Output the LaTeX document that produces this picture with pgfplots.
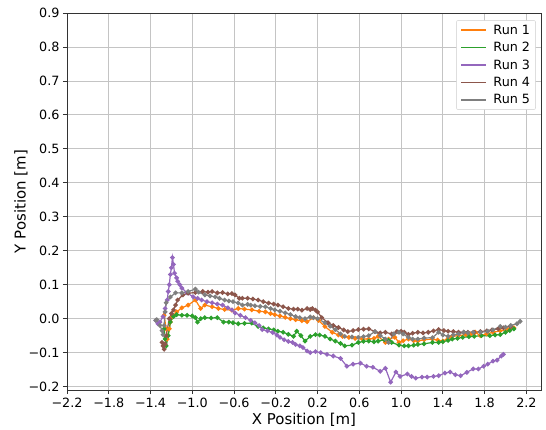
\documentclass[border=0pt]{standalone}
\usepackage{fontspec}
\setmainfont{DejaVu Sans}
\usepackage{pgfplots}
\pgfplotsset{compat=1.18}

\definecolor{cOrange}{HTML}{FF7F0E}
\definecolor{cGreen}{HTML}{2CA02C}
\definecolor{cPurple}{HTML}{9467BD}
\definecolor{cBrown}{HTML}{8C564B}
\definecolor{cGray}{HTML}{7F7F7F}
\definecolor{gridgray}{HTML}{C4C4C4}

\begin{document}
\begin{tikzpicture}
\begin{axis}[
    at={(67bp,40bp)}, anchor=south west,
    scale only axis,
    width=474bp, height=377bp,
    xmin=-2.2, xmax=2.34,
    ymin=-0.21, ymax=0.9,
    xtick={-2.2,-1.8,-1.4,-1.0,-0.6,-0.2,0.2,0.6,1.0,1.4,1.8,2.2},
    xticklabels={−2.2,−1.8,−1.4,−1.0,−0.6,−0.2,0.2,0.6,1.0,1.4,1.8,2.2},
    ytick={-0.2,-0.1,0,0.1,0.2,0.3,0.4,0.5,0.6,0.7,0.8,0.9},
    yticklabels={−0.2,−0.1,0.0,0.1,0.2,0.3,0.4,0.5,0.6,0.7,0.8,0.9},
    tick align=outside, tick pos=left,
    major tick length=4bp,
    tick style={black!80, line width=0.8bp},
    axis line style={black!80, line width=0.8bp},
    grid=major,
    major grid style={gridgray, line width=0.8bp},
    ticklabel style={font=\fontsize{12.8}{14}\selectfont},
    xticklabel style={yshift=-0.5bp},
    xlabel={X Position [m]},
    ylabel={Y Position [m]},
    label style={font=\fontsize{15}{17}\selectfont},
    xlabel style={yshift=1bp},
    ylabel style={yshift=-6bp},
    legend cell align=left,
    legend image code/.code={\draw[#1] (0bp,0bp) -- (25bp,0bp);},
    legend style={
      at={(0.989,0.981)}, anchor=north east,
      draw=black!20, rounded corners=2bp, fill=white,
      font=\fontsize{12.8}{14}\selectfont,
      row sep=3.5bp, inner xsep=4bp, inner ysep=3bp,
      nodes={inner sep=1.5bp},
      /tikz/every odd column/.append style={column sep=5bp},
    },
    run/.style={line width=1.2bp, mark=*, mark size=1.7bp, forget plot},
]
\addplot[run, color=cOrange, mark options={fill=cOrange, draw=cOrange}] coordinates {
(-1.27,0.01) (-1.25,-0.03) (-1.24,-0.06) (-1.22,-0.03) (-1.21,-0.01) (-1.19,0.006) (-1.15,0.02) (-1.10,0.032) (-1.04,0.04) (-0.97,0.055) (-0.92,0.03) (-0.88,0.04) (-0.81,0.035) (-0.75,0.03) (-0.69,0.027) (-0.62,0.025) (-0.56,0.03) (-0.50,0.028) (-0.43,0.026) (-0.36,0.022) (-0.30,0.02) (-0.25,0.015) (-0.21,0.012) (-0.16,0.008) (-0.11,0.004) (-0.06,0.0) (-0.01,-0.003) (0.05,-0.006) (0.10,-0.009) (0.16,0.003) (0.21,-0.005) (0.27,-0.023) (0.34,-0.04) (0.40,-0.048) (0.44,-0.052) (0.50,-0.055) (0.56,-0.058) (0.63,-0.06) (0.69,-0.06) (0.74,-0.058) (0.78,-0.052) (0.85,-0.07) (0.88,-0.06) (0.94,-0.055) (0.98,-0.07) (1.02,-0.065) (1.07,-0.06) (1.12,-0.065) (1.16,-0.066) (1.22,-0.062) (1.30,-0.06) (1.35,-0.063) (1.40,-0.066) (1.45,-0.058) (1.49,-0.052) (1.55,-0.05) (1.62,-0.047) (1.67,-0.045) (1.71,-0.04) (1.76,-0.05) (1.82,-0.045) (1.88,-0.04) (1.95,-0.036) (2.02,-0.032) (2.08,-0.027)
};
\addplot[run, color=cGreen, mark options={fill=cGreen, draw=cGreen}] coordinates {
(-1.27,-0.03) (-1.26,-0.06) (-1.25,-0.08) (-1.23,-0.05) (-1.21,-0.01) (-1.18,0.006) (-1.15,0.012) (-1.10,0.01) (-1.05,0.01) (-1.0,0.008) (-0.97,0.003) (-0.95,-0.01) (-0.92,0.0) (-0.88,0.003) (-0.82,0.002) (-0.76,0.003) (-0.70,-0.01) (-0.65,-0.01) (-0.61,-0.012) (-0.56,-0.015) (-0.50,-0.014) (-0.43,-0.013) (-0.37,-0.023) (-0.32,-0.027) (-0.27,-0.03) (-0.22,-0.033) (-0.18,-0.037) (-0.13,-0.04) (-0.08,-0.046) (-0.03,-0.052) (0.0,-0.037) (0.04,-0.05) (0.08,-0.066) (0.13,-0.052) (0.18,-0.047) (0.22,-0.048) (0.27,-0.052) (0.32,-0.06) (0.37,-0.066) (0.42,-0.073) (0.46,-0.08) (0.53,-0.078) (0.59,-0.07) (0.64,-0.067) (0.69,-0.066) (0.74,-0.068) (0.78,-0.066) (0.84,-0.062) (0.88,-0.064) (0.91,-0.07) (0.98,-0.078) (1.03,-0.08) (1.07,-0.08) (1.12,-0.078) (1.16,-0.076) (1.22,-0.074) (1.30,-0.07) (1.36,-0.07) (1.40,-0.068) (1.45,-0.064) (1.49,-0.06) (1.54,-0.058) (1.59,-0.055) (1.65,-0.053) (1.70,-0.052) (1.77,-0.05) (1.85,-0.05) (1.90,-0.048) (1.95,-0.047) (2.00,-0.04) (2.04,-0.035) (2.08,-0.03)
};
\addplot[run, color=cPurple, mark options={fill=cPurple, draw=cPurple}] coordinates {
(-1.35,-0.005) (-1.33,-0.015) (-1.31,-0.01) (-1.28,0.006) (-1.26,0.03) (-1.24,0.055) (-1.23,0.08) (-1.22,0.10) (-1.21,0.13) (-1.20,0.15) (-1.19,0.18) (-1.18,0.16) (-1.17,0.134) (-1.15,0.12) (-1.14,0.11) (-1.12,0.10) (-1.10,0.09) (-1.05,0.076) (-0.99,0.064) (-0.95,0.06) (-0.91,0.055) (-0.86,0.05) (-0.81,0.047) (-0.76,0.043) (-0.71,0.04) (-0.66,0.032) (-0.62,0.026) (-0.59,0.017) (-0.54,0.01) (-0.49,0.003) (-0.44,-0.005) (-0.40,-0.012) (-0.36,-0.02) (-0.33,-0.032) (-0.28,-0.036) (-0.23,-0.041) (-0.19,-0.048) (-0.16,-0.055) (-0.12,-0.062) (-0.08,-0.067) (-0.04,-0.07) (-0.01,-0.076) (0.03,-0.08) (0.06,-0.085) (0.10,-0.095) (0.13,-0.10) (0.18,-0.097) (0.23,-0.1) (0.29,-0.105) (0.35,-0.11) (0.42,-0.117) (0.48,-0.14) (0.54,-0.134) (0.61,-0.131) (0.67,-0.14) (0.73,-0.143) (0.80,-0.155) (0.85,-0.146) (0.90,-0.187) (0.95,-0.157) (0.99,-0.17) (1.06,-0.163) (1.10,-0.17) (1.14,-0.175) (1.20,-0.172) (1.25,-0.172) (1.31,-0.17) (1.36,-0.168) (1.42,-0.16) (1.47,-0.157) (1.52,-0.165) (1.57,-0.168) (1.63,-0.158) (1.69,-0.148) (1.74,-0.148) (1.79,-0.14) (1.83,-0.134) (1.88,-0.125) (1.92,-0.122) (1.96,-0.11) (1.98,-0.105)
};
\addplot[run, color=cBrown, mark options={fill=cBrown, draw=cBrown}] coordinates {
(-1.29,-0.07) (-1.28,-0.08) (-1.27,-0.09) (-1.26,-0.075) (-1.25,-0.05) (-1.22,0.0) (-1.20,0.015) (-1.18,0.026) (-1.16,0.04) (-1.14,0.055) (-1.09,0.07) (-1.04,0.075) (-0.97,0.077) (-0.90,0.08) (-0.85,0.078) (-0.81,0.08) (-0.76,0.076) (-0.71,0.077) (-0.66,0.073) (-0.62,0.074) (-0.59,0.07) (-0.55,0.06) (-0.52,0.06) (-0.47,0.06) (-0.42,0.058) (-0.37,0.055) (-0.32,0.05) (-0.27,0.046) (-0.22,0.043) (-0.18,0.04) (-0.13,0.035) (-0.08,0.03) (-0.03,0.028) (0.01,0.028) (0.05,0.025) (0.10,0.03) (0.13,0.027) (0.15,0.03) (0.18,0.025) (0.20,0.02) (0.24,0.003) (0.30,-0.012) (0.35,-0.02) (0.40,-0.026) (0.45,-0.033) (0.49,-0.038) (0.54,-0.035) (0.59,-0.032) (0.64,-0.031) (0.69,-0.03) (0.75,-0.038) (0.80,-0.042) (0.85,-0.04) (0.91,-0.045) (0.96,-0.038) (1.00,-0.037) (1.03,-0.04) (1.07,-0.046) (1.11,-0.043) (1.16,-0.04) (1.21,-0.042) (1.26,-0.04) (1.31,-0.036) (1.36,-0.032) (1.41,-0.035) (1.45,-0.037) (1.50,-0.038) (1.55,-0.04) (1.60,-0.04) (1.64,-0.04) (1.70,-0.04) (1.76,-0.038) (1.82,-0.036) (1.87,-0.033) (1.93,-0.03) (1.98,-0.027) (2.05,-0.023)
};
\addplot[run, color=cGray, mark options={fill=cGray, draw=cGray}] coordinates {
(-1.35,-0.005) (-1.34,-0.003) (-1.31,-0.02) (-1.29,-0.035) (-1.28,-0.047) (-1.27,-0.02) (-1.26,0.02) (-1.25,0.047) (-1.21,0.064) (-1.16,0.076) (-1.10,0.076) (-1.04,0.08) (-0.97,0.087) (-0.94,0.078) (-0.88,0.07) (-0.83,0.067) (-0.78,0.064) (-0.74,0.06) (-0.69,0.055) (-0.65,0.052) (-0.61,0.05) (-0.56,0.046) (-0.52,0.04) (-0.47,0.042) (-0.44,0.04) (-0.40,0.038) (-0.35,0.036) (-0.30,0.035) (-0.25,0.03) (-0.21,0.026) (-0.16,0.022) (-0.11,0.017) (-0.06,0.012) (-0.01,0.006) (0.03,0.003) (0.08,0.0) (0.13,0.005) (0.16,0.003) (0.20,0.0) (0.27,-0.012) (0.32,-0.022) (0.37,-0.032) (0.42,-0.045) (0.46,-0.052) (0.53,-0.054) (0.59,-0.055) (0.64,-0.053) (0.69,-0.05) (0.75,-0.038) (0.80,-0.05) (0.85,-0.06) (0.88,-0.07) (0.93,-0.045) (0.98,-0.04) (1.02,-0.045) (1.07,-0.055) (1.11,-0.06) (1.16,-0.06) (1.22,-0.057) (1.30,-0.056) (1.36,-0.04) (1.40,-0.048) (1.45,-0.052) (1.50,-0.048) (1.55,-0.045) (1.60,-0.04) (1.64,-0.042) (1.69,-0.04) (1.76,-0.04) (1.83,-0.037) (1.88,-0.033) (1.95,-0.023) (2.00,-0.025) (2.05,-0.02) (2.11,-0.015) (2.14,-0.008)
};
\addlegendimage{cOrange, line width=1.6bp}
\addlegendentry{Run 1}
\addlegendimage{cGreen, line width=1.6bp}
\addlegendentry{Run 2}
\addlegendimage{cPurple, line width=1.6bp}
\addlegendentry{Run 3}
\addlegendimage{cBrown, line width=1.6bp}
\addlegendentry{Run 4}
\addlegendimage{cGray, line width=1.6bp}
\addlegendentry{Run 5}
\end{axis}
\pgfresetboundingbox
\path[use as bounding box] (0,0) rectangle (546bp,430bp);
\end{tikzpicture}
\end{document}
